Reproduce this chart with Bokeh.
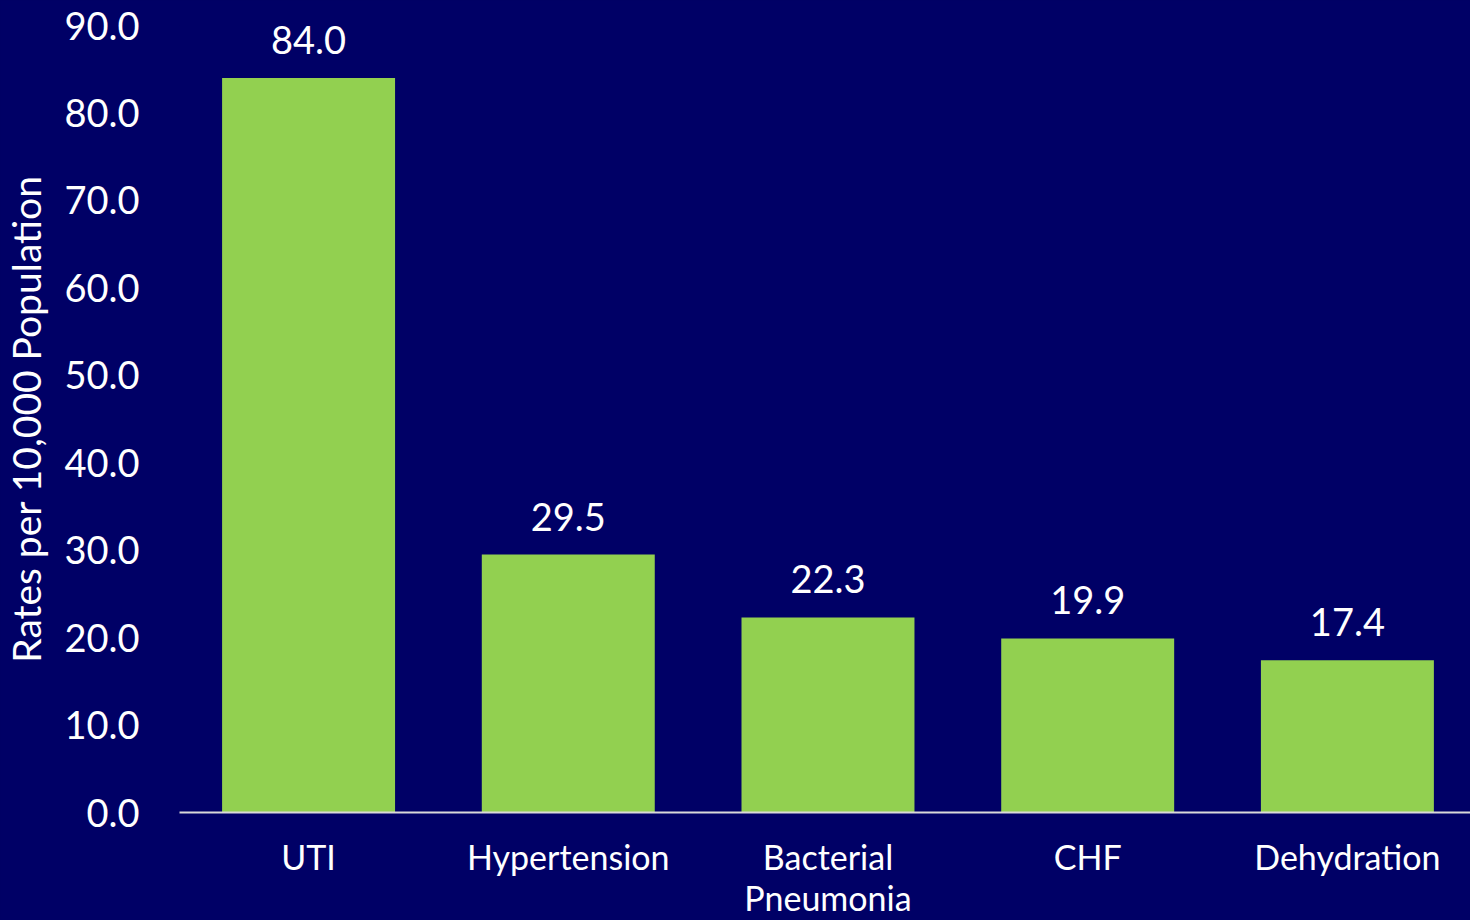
from bokeh.plotting import figure
from bokeh.models import Range1d, FixedTicker, ColumnDataSource, LabelSet
from bokeh.core.properties import value
from bokeh.embed import file_html
from bokeh.resources import INLINE

categories = ["UTI", "Hypertension", "Bacterial\nPneumonia", "CHF", "Dehydration"]
rates = [84.0, 29.5, 22.3, 19.9, 17.4]
y_ticks = [0, 10, 20, 30, 40, 50, 60, 70, 80, 90]

BG = "#000066"
BAR = "#92D050"
FONT = "Lato"

xs = list(range(len(categories)))
src = ColumnDataSource(dict(x=xs, rate=rates, label=[f"{v:.1f}" for v in rates]))

p = figure(width=1470, height=920, output_backend="svg", toolbar_location=None,
           x_range=Range1d(-0.497, 4.474), y_range=Range1d(0, 90),
           min_border_left=179, min_border_right=0, min_border_top=25, min_border_bottom=108)
p.background_fill_color = BG
p.border_fill_color = BG
p.outline_line_color = None
p.xgrid.visible = False
p.ygrid.visible = False

p.vbar(x="x", top="rate", width=0.666, source=src, fill_color=BAR, line_color=None)

labels = LabelSet(x="x", y="rate", text="label", source=src, text_align="center",
                  text_baseline="alphabetic", y_offset=24, text_color="white",
                  text_font=value(FONT), text_font_size="38px")
p.add_layout(labels)

p.xaxis.ticker = FixedTicker(ticks=xs)
p.xaxis.major_label_overrides = {i: c for i, c in enumerate(categories)}
p.xaxis.axis_line_color = "#D9D9D9"
p.xaxis.axis_line_width = 2
p.xaxis.major_tick_line_color = None
p.xaxis.minor_tick_line_color = None
p.xaxis.major_tick_out = 0
p.xaxis.major_tick_in = 0
p.xaxis.major_label_standoff = 23
p.xaxis.major_label_text_line_height = 1.0
p.xaxis.major_label_text_color = "white"
p.xaxis.major_label_text_font = FONT
p.xaxis.major_label_text_font_size = "34px"

p.yaxis.ticker = FixedTicker(ticks=y_ticks)
p.yaxis.major_label_overrides = {t: f"{t:.1f}" for t in y_ticks}
p.yaxis.axis_line_color = None
p.yaxis.major_tick_line_color = None
p.yaxis.minor_tick_line_color = None
p.yaxis.major_tick_out = 0
p.yaxis.major_tick_in = 0
p.yaxis.major_label_standoff = 40
p.yaxis.major_label_text_color = "white"
p.yaxis.major_label_text_font = FONT
p.yaxis.major_label_text_font_size = "38px"
p.yaxis.axis_label = "Rates per 10,000 Population"
p.yaxis.axis_label_text_color = "white"
p.yaxis.axis_label_text_font = FONT
p.yaxis.axis_label_text_font_size = "39px"
p.yaxis.axis_label_text_font_style = "normal"
p.yaxis.axis_label_standoff = 12

html = file_html(p, INLINE)
html = html.replace("</head>", "<style>html,body{background:%s;}</style></head>" % BG, 1)
open("out.html", "w").write(html)
